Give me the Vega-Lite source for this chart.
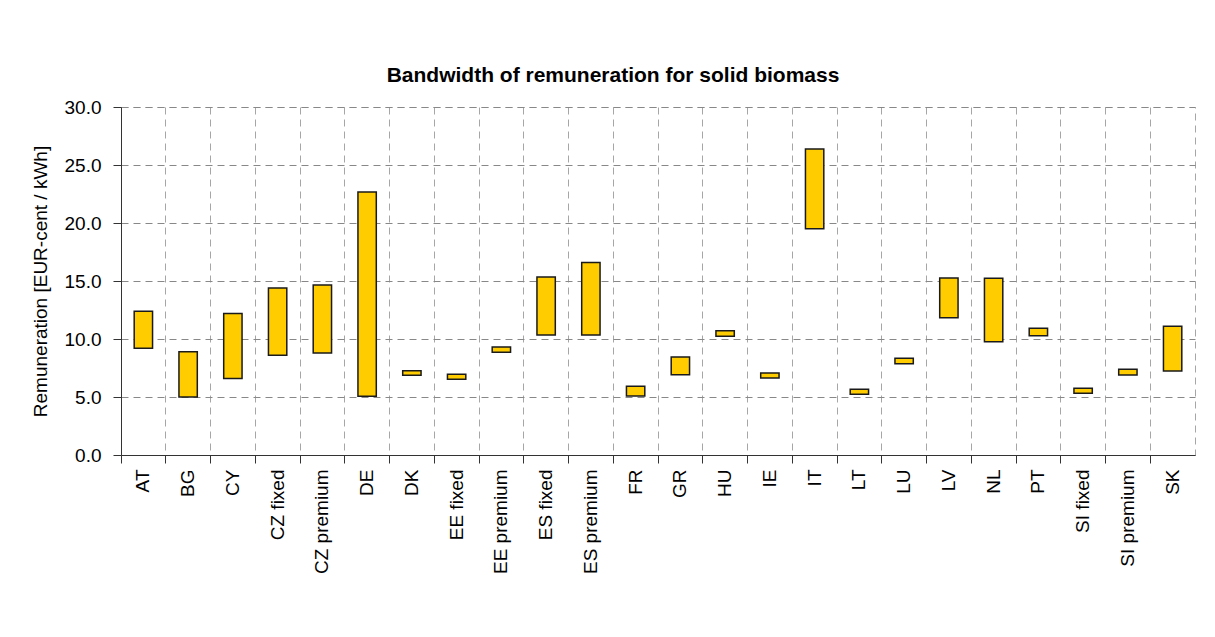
{
  "$schema": "https://vega.github.io/schema/vega-lite/v6.json",
  "width": 1074,
  "height": 348,
  "autosize": {"type": "none"},
  "padding": {"left": 121, "top": 107, "right": 20, "bottom": 182},
  "background": "white",
  "title": {
    "text": "Bandwidth of remuneration for solid biomass",
    "font": "Liberation Sans",
    "fontSize": 21,
    "fontWeight": "bold",
    "color": "black",
    "anchor": "middle",
    "frame": "bounds",
    "offset": 12
  },
  "config": {
    "view": {"stroke": "#a6a6a6", "strokeDash": [7, 5], "strokeWidth": 1},
    "axis": {
      "labelFont": "Liberation Sans",
      "titleFont": "Liberation Sans",
      "labelColor": "black",
      "titleColor": "black",
      "domainColor": "#333333",
      "tickColor": "#333333",
      "gridDash": [7, 5],
      "gridWidth": 1
    }
  },
  "data": {
    "values": [
      {"country": "AT", "low": 9.2, "high": 12.4},
      {"country": "BG", "low": 5.0, "high": 8.9},
      {"country": "CY", "low": 6.6, "high": 12.2},
      {"country": "CZ fixed", "low": 8.6, "high": 14.4},
      {"country": "CZ premium", "low": 8.8, "high": 14.65},
      {"country": "DE", "low": 5.06, "high": 22.67},
      {"country": "DK", "low": 6.87, "high": 7.27},
      {"country": "EE fixed", "low": 6.53, "high": 6.96},
      {"country": "EE premium", "low": 8.85, "high": 9.31},
      {"country": "ES fixed", "low": 10.34, "high": 15.34},
      {"country": "ES premium", "low": 10.34, "high": 16.6},
      {"country": "FR", "low": 5.09, "high": 5.92},
      {"country": "GR", "low": 6.92, "high": 8.45},
      {"country": "HU", "low": 10.23, "high": 10.72},
      {"country": "IE", "low": 6.64, "high": 7.07},
      {"country": "IT", "low": 19.51, "high": 26.38},
      {"country": "LT", "low": 5.23, "high": 5.66},
      {"country": "LU", "low": 7.87, "high": 8.33},
      {"country": "LV", "low": 11.84, "high": 15.26},
      {"country": "NL", "low": 9.77, "high": 15.23},
      {"country": "PT", "low": 10.29, "high": 10.92},
      {"country": "SI fixed", "low": 5.32, "high": 5.75},
      {"country": "SI premium", "low": 6.9, "high": 7.39},
      {"country": "SK", "low": 7.24, "high": 11.1}
    ]
  },
  "mark": {
    "type": "bar",
    "fill": "#FFCC00",
    "stroke": "#1a1a1a",
    "strokeWidth": 1.5,
    "width": {"band": 0.41}
  },
  "encoding": {
    "x": {
      "field": "country",
      "type": "nominal",
      "sort": null,
      "scale": {"paddingInner": 0, "paddingOuter": 0},
      "axis": {
        "title": null,
        "labelAngle": -90,
        "labelAlign": "right",
        "labelBaseline": "middle",
        "labelFontSize": 19,
        "labelPadding": 6,
        "bandPosition": 0,
        "grid": true,
        "gridColor": "#a6a6a6",
        "ticks": true,
        "tickSize": 8,
        "domainWidth": 1
      }
    },
    "y": {
      "field": "low",
      "type": "quantitative",
      "scale": {"domain": [0, 30], "nice": false},
      "axis": {
        "title": "Remuneration [EUR-cent / kWh]",
        "titleFontSize": 19,
        "titleFontWeight": "normal",
        "titlePadding": 14,
        "labelFontSize": 19,
        "format": ".1f",
        "values": [0, 5, 10, 15, 20, 25, 30],
        "tickSize": 8,
        "labelPadding": 12,
        "grid": true,
        "gridColor": "#888888"
      }
    },
    "y2": {"field": "high"}
  }
}
